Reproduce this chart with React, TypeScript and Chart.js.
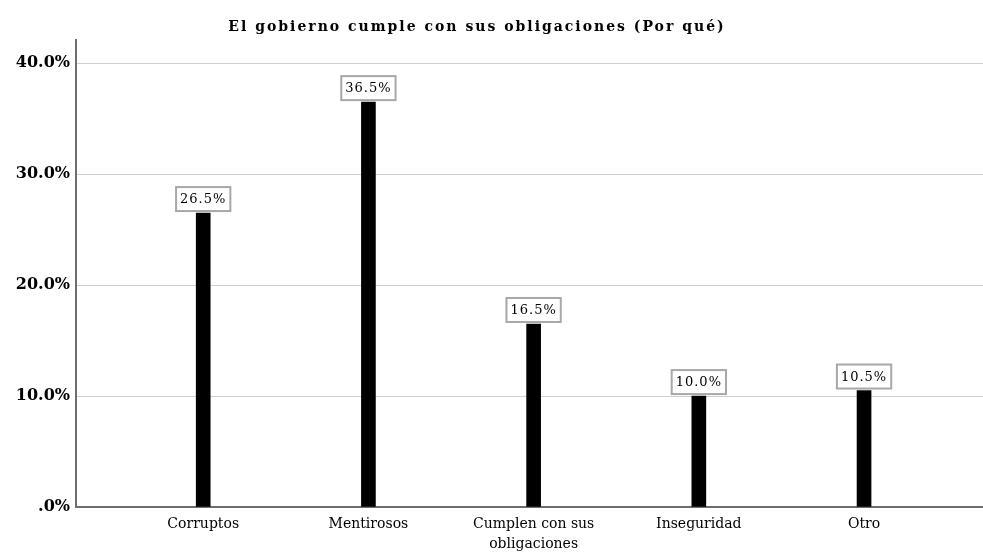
import React, { useEffect, useRef } from "react";
import { Chart, registerables } from "chart.js";

Chart.register(...registerables);

const categories: (string | string[])[] = [
  "Corruptos",
  "Mentirosos",
  ["Cumplen con sus", "obligaciones"],
  "Inseguridad",
  "Otro",
];
const values = [26.5, 36.5, 16.5, 10.0, 10.5];
const yTicks = [0, 10, 20, 30, 40];
const title = "El gobierno cumple con sus obligaciones (Por qué)";

const SERIF = "'DejaVu Serif'";

const labelPlugin = {
  id: "boxLabels",
  afterDatasetsDraw(chart: any) {
    const ctx = chart.ctx;
    const meta = chart.getDatasetMeta(0);
    ctx.save();
    (ctx as any).letterSpacing = "1px";
    ctx.font = `13px ${SERIF}`;
    meta.data.forEach((el: any, i: number) => {
      const text = values[i].toFixed(1) + "%";
      const w = ctx.measureText(text).width + 8;
      const h = 24;
      const x = el.x - w / 2;
      const y = el.y - h - 2;
      ctx.fillStyle = "#ffffff";
      ctx.fillRect(x, y, w, h);
      ctx.strokeStyle = "#a8a8a8";
      ctx.lineWidth = 2;
      ctx.strokeRect(x, y, w, h);
      ctx.fillStyle = "#000000";
      ctx.textAlign = "center";
      ctx.textBaseline = "middle";
      ctx.fillText(text, el.x, y + h / 2 + 1);
    });
    // title
    (ctx as any).letterSpacing = "2px";
    ctx.font = `bold 14px ${SERIF}`;
    ctx.fillStyle = "#000000";
    ctx.textAlign = "center";
    ctx.textBaseline = "middle";
    ctx.fillText(title, 477, 27);
    ctx.restore();
  },
};

export default function App() {
  const ref = useRef<HTMLCanvasElement>(null);
  useEffect(() => {
    if (!ref.current) return;
    const chart = new Chart(ref.current, {
      type: "bar",
      data: {
        datasets: [
          {
            data: values.map((v, i) => ({ x: i + 1, y: v })),
            backgroundColor: "#000000",
            barThickness: 14,
          },
        ],
      },
      options: {
        animation: false,
        responsive: false,
        maintainAspectRatio: false,
        layout: { padding: { left: 0, right: 0, top: 40, bottom: 0 } },
        plugins: {
          legend: { display: false },
          tooltip: { enabled: false },
          title: { display: false },
        },
        scales: {
          x: {
            type: "linear",
            offset: false,
            min: 0.23,
            max: 5.72,
            grid: { display: false, drawTicks: false },
            border: { color: "#6e6e6e", width: 2 },
            afterBuildTicks: (scale: any) => {
              scale.ticks = categories.map((_, i) => ({ value: i + 1 }));
            },
            afterFit: (scale: any) => {
              scale.height = 47;
              scale.paddingLeft = 0;
              scale.paddingRight = 0;
            },
            ticks: {
              autoSkip: false,
              maxRotation: 0,
              padding: 8,
              color: "#000000",
              font: { family: SERIF, size: 14, lineHeight: 1.4 },
              callback: (v: any) => categories[Math.round(v) - 1] as any,
            },
          },
          y: {
            min: 0,
            max: 42.1,
            grid: { color: "#cfcfcf", lineWidth: 1, drawTicks: false },
            border: { color: "#6e6e6e", width: 2 },
            afterBuildTicks: (scale: any) => {
              scale.ticks = yTicks.map((v) => ({ value: v }));
            },
            afterFit: (scale: any) => {
              scale.width = 76;
              scale.paddingTop = 0;
              scale.paddingBottom = 0;
            },
            ticks: {
              padding: 6,
              color: "#000000",
              font: { family: SERIF, size: 16, weight: "bold" },
              callback: (v: any) => (v === 0 ? ".0%" : Number(v).toFixed(1) + "%"),
            },
          },
        },
      },
      plugins: [labelPlugin],
    } as any);
    return () => chart.destroy();
  }, []);
  return (
    <div style={{ position: "fixed", left: 0, top: 0, width: 983, height: 554, background: "#fff" }}>
      <canvas ref={ref} width={983} height={554} style={{ width: 983, height: 554 }} />
    </div>
  );
}
